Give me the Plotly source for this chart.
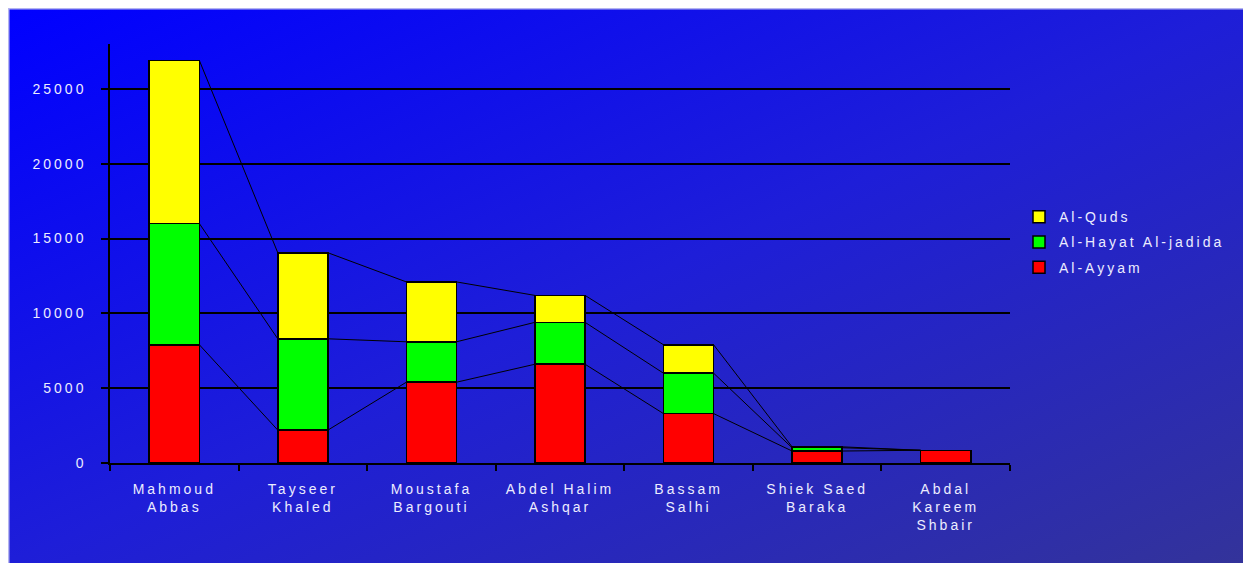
import base64
import plotly.graph_objects as go

categories = ["Mahmoud<br>Abbas", "Tayseer<br>Khaled", "Moustafa<br>Bargouti",
              "Abdel Halim<br>Ashqar", "Bassam<br>Salhi", "Shiek Saed<br>Baraka",
              "Abdal<br>Kareem<br>Shbair"]
al_ayyam = [7900, 2200, 5400, 6600, 3300, 800, 850]
al_hayat = [8100, 6100, 2700, 2800, 2700, 220, 0]
al_quds = [10900, 5750, 4000, 1800, 1900, 60, 0]
series_names = ["Al-Ayyam", "Al-Hayat Al-jadida", "Al-Quds"]
series_values = [al_ayyam, al_hayat, al_quds]
series_colors = ["#FF0000", "#00FF00", "#FFFF00"]
y_ticks = [0, 5000, 10000, 15000, 20000, 25000]
y_tick_labels = ["0", "5000", "10000", "15000", "20000", "25000"]

BAR_W = 0.39
FONT = dict(family="Liberation Sans, Arial, sans-serif", size=14, color="#ECECFF")

fig = go.Figure()
xs = list(range(len(categories)))
cum = [0] * len(categories)
n = len(series_names)
for k, (name, vals, col) in enumerate(zip(series_names, series_values, series_colors)):
    fig.add_trace(go.Bar(
        x=xs, y=vals, name=name, width=BAR_W, legendgroup=name,
        legendrank=n - k,
        marker=dict(color=col, line=dict(color="black", width=1.5)),
        hoverinfo="skip"))
    cum = [c + v for c, v in zip(cum, vals)]
    lx, ly = [], []
    for i in range(len(categories) - 1):
        lx += [i + BAR_W / 2, i + 1 - BAR_W / 2, None]
        ly += [cum[i], cum[i + 1], None]
    fig.add_trace(go.Scatter(x=lx, y=ly, mode="lines", showlegend=False,
                             line=dict(color="black", width=1), hoverinfo="skip"))

# background gradient (Excel-like diagonal fill)
svg = ('<svg xmlns="http://www.w3.org/2000/svg" width="1233" height="555" '
       'viewBox="0 0 1233 555" preserveAspectRatio="none">'
       '<defs><linearGradient id="g" x1="0" y1="0" x2="1" y2="1">'
       '<stop offset="0" stop-color="#0000FF"/>'
       '<stop offset="0.5" stop-color="#1E1ED8"/>'
       '<stop offset="1" stop-color="#33339A"/></linearGradient></defs>'
       '<rect width="1233" height="555" fill="url(#g)"/>'
       '<line x1="0" y1="0.75" x2="1233" y2="0.75" stroke="#B4B4F0" stroke-width="1.5"/>'
       '<line x1="0.75" y1="0" x2="0.75" y2="555" stroke="#B4B4F0" stroke-width="1.5"/>'
       '</svg>')
src = "data:image/svg+xml;base64," + base64.b64encode(svg.encode()).decode()

L, R, T, B = 110, 233, 44, 100
W, H = 1243, 563
pw, ph = W - L - R, H - T - B
fig.add_layout_image(dict(
    source=src, xref="paper", yref="paper",
    x=(8 - L) / pw, y=(H - B - 8) / ph,
    sizex=(W - 8) / pw, sizey=(H - 8) / ph,
    xanchor="left", yanchor="top", sizing="stretch", layer="below"))

fig.update_layout(
    width=W, height=H, barmode="stack",
    margin=dict(l=L, r=R, t=T, b=B),
    paper_bgcolor="white", plot_bgcolor="rgba(0,0,0,0)",
    font=FONT, showlegend=True,
    legend=dict(x=1.01, y=0.625, xanchor="left", yanchor="top",
                traceorder="grouped", tracegroupgap=4,
                bgcolor="rgba(0,0,0,0)", font=FONT, itemwidth=30),
    xaxis=dict(range=[-0.5, len(categories) - 0.5], tickvals=xs, ticktext=categories,
               ticks="", showgrid=False, zeroline=False,
               showline=True, linecolor="black", linewidth=1.5,
               ticklabelstandoff=12,
               minor=dict(tickvals=[i - 0.5 for i in range(len(categories) + 1)],
                          ticks="outside", ticklen=6, tickcolor="black", tickwidth=1.5,
                          showgrid=False)),
    yaxis=dict(range=[0, 28000], tickvals=y_ticks, ticktext=y_tick_labels,
               ticks="outside", ticklen=7,
               tickcolor="black", tickwidth=1.5, showgrid=True, gridcolor="black",
               gridwidth=1.5, zeroline=False, showline=True, linecolor="black",
               linewidth=1.5, ticklabelstandoff=12),
)

post = ("document.querySelectorAll('.xtick text, .ytick text, .legendtext')"
        ".forEach(function(t){t.style.letterSpacing='3px';});"
        "document.querySelectorAll('.legend [clip-path]')"
        ".forEach(function(e){e.removeAttribute('clip-path');});")
fig.write_html("out.html", post_script=post)
